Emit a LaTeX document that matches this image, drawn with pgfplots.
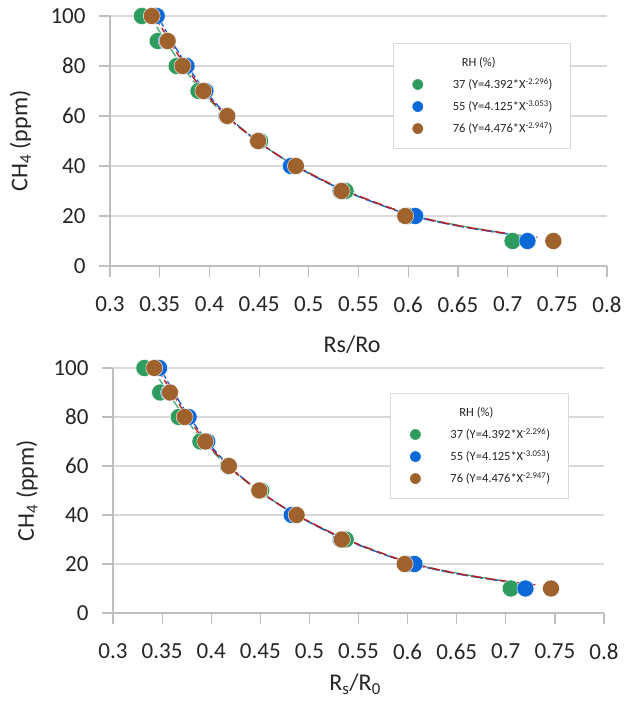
\documentclass[border=0pt]{standalone}
\usepackage{pgfplots}
\pgfplotsset{compat=1.18}
\usepackage{fontspec}
\setmainfont{Carlito}
\definecolor{cgreen}{HTML}{2E9B5F}
\definecolor{cblue}{HTML}{0B68D8}
\definecolor{cbrown}{HTML}{A0622D}
\definecolor{lgreen}{HTML}{4FB07A}
\definecolor{lblue}{HTML}{2060C8}
\definecolor{lred}{HTML}{C02020}
\definecolor{gridc}{HTML}{D9D9D9}
\definecolor{axc}{HTML}{BFBFBF}
\pgfplotsset{
  panel/.style={
    scale only axis, clip=false,
    xmin=0.3, xmax=0.8, ymin=0, ymax=100,
    axis x line=bottom, axis y line=left,
    axis line style={draw=axc, line width=1.2bp, -},
    xtick={0.3,0.35,0.4,0.45,0.5,0.55,0.6,0.65,0.7,0.75,0.8},
    xticklabels={0.3,0.35,0.4,0.45,0.5,0.55,0.6,0.65,0.7,0.75,0.8},
    ytick={0,20,40,60,80,100},
    yticklabels={0,20,40,60,80,100},
    tick align=outside, major tick length=11bp,
    tick style={draw=axc, line width=1.2bp},
    ymajorgrids, major grid style={draw=gridc, line width=1.4bp},
    tick label style={font=\fontsize{23bp}{27bp}\selectfont, text=black!85},
    xticklabel style={yshift=-16bp},
    yticklabel style={xshift=-10bp},
    label style={font=\fontsize{24bp}{28bp}\selectfont, text=black!85},
    legend style={draw=gridc, line width=1bp, fill=white,
      font=\fontsize{12.5bp}{14bp}\selectfont, text=black!85,
      inner xsep=16bp, inner ysep=12bp, row sep=6.5bp,
      /tikz/every odd column/.append style={column sep=27bp},
      anchor=north west},
    legend cell align=left,
    legend image post style={mark size=6bp},
    mk/.style={only marks, mark=*, mark size=8.5bp, mark options={draw=white, line width=0.6bp}},
  }
}
\newcommand{\panelplots}{%
  \addlegendimage{empty legend}\addlegendentry{\hspace*{9bp}RH (\%)}
  \addplot[mk, color=cgreen, mark options={fill=cgreen, draw=white}] coordinates {
    (0.332,100) (0.348,90) (0.367,80) (0.389,70) (0.417,60) (0.451,50) (0.486,40) (0.537,30) (0.600,20) (0.705,10)};
  \addlegendentry{37 (Y=4.392*X\textsuperscript{-2.296})}
  \addplot[mk, color=cblue, mark options={fill=cblue, draw=white}] coordinates {
    (0.347,100) (0.357,90) (0.377,80) (0.396,70) (0.418,60) (0.449,50) (0.482,40) (0.532,30) (0.607,20) (0.720,10)};
  \addlegendentry{55 (Y=4.125*X\textsuperscript{-3.053})}
  \addplot[mk, color=cbrown, mark options={fill=cbrown, draw=white}] coordinates {
    (0.342,100) (0.358,90) (0.373,80) (0.394,70) (0.418,60) (0.449,50) (0.487,40) (0.533,30) (0.597,20) (0.746,10)};
  \addlegendentry{76 (Y=4.476*X\textsuperscript{-2.947})}
  \addplot[forget plot, smooth, lgreen, line width=1.4bp, dash pattern=on 9bp off 4bp] coordinates {
    (0.340,100) (0.356,90) (0.372,80.5) (0.392,70) (0.418,59.5) (0.450,49.3) (0.487,40) (0.537,30) (0.600,20.8) (0.650,16.3) (0.705,12.6)};
  \addplot[forget plot, smooth, lblue, line width=1.4bp, dash pattern=on 12bp off 3bp] coordinates {
    (0.348,100) (0.362,90) (0.377,80.5) (0.396,70) (0.420,59.3) (0.450,49.5) (0.485,40.3) (0.535,30.2) (0.600,20.6) (0.650,16.0) (0.700,12.8) (0.725,11.6)};
  \addplot[forget plot, smooth, lred, line width=1.4bp, dash pattern=on 10bp off 4bp] coordinates {
    (0.345,100) (0.360,90) (0.375,80.5) (0.395,69.5) (0.420,59) (0.450,49.5) (0.485,40.5) (0.535,30.5) (0.600,20.8) (0.650,16.2) (0.700,13.0) (0.730,11.5)};
}
\begin{document}
\begin{tikzpicture}
\path[use as bounding box] (0,0) rectangle (626bp,705bp);
\begin{axis}[panel, at={(110bp,439bp)}, anchor=south west,
  width=497bp, height=250bp,
  xlabel={Rs/Ro}, ylabel={CH\textsubscript{4} (ppm)},
  xlabel style={at={(axis description cs:0.487,-0.316)}, anchor=center},
  ylabel style={at={(axis description cs:-0.18,0.5)}, anchor=center},
  legend style={at={(axis description cs:0.569,0.892)}}]
\panelplots
\end{axis}
\begin{axis}[panel, at={(113bp,92bp)}, anchor=south west,
  width=491bp, height=245bp,
  xlabel={R\textsubscript{s}/R\textsubscript{0}}, ylabel={CH\textsubscript{4} (ppm)},
  xlabel style={at={(axis description cs:0.493,-0.29)}, anchor=center},
  ylabel style={at={(axis description cs:-0.175,0.5)}, anchor=center},
  legend style={at={(axis description cs:0.565,0.898)}}]
\panelplots
\end{axis}
\end{tikzpicture}
\end{document}
